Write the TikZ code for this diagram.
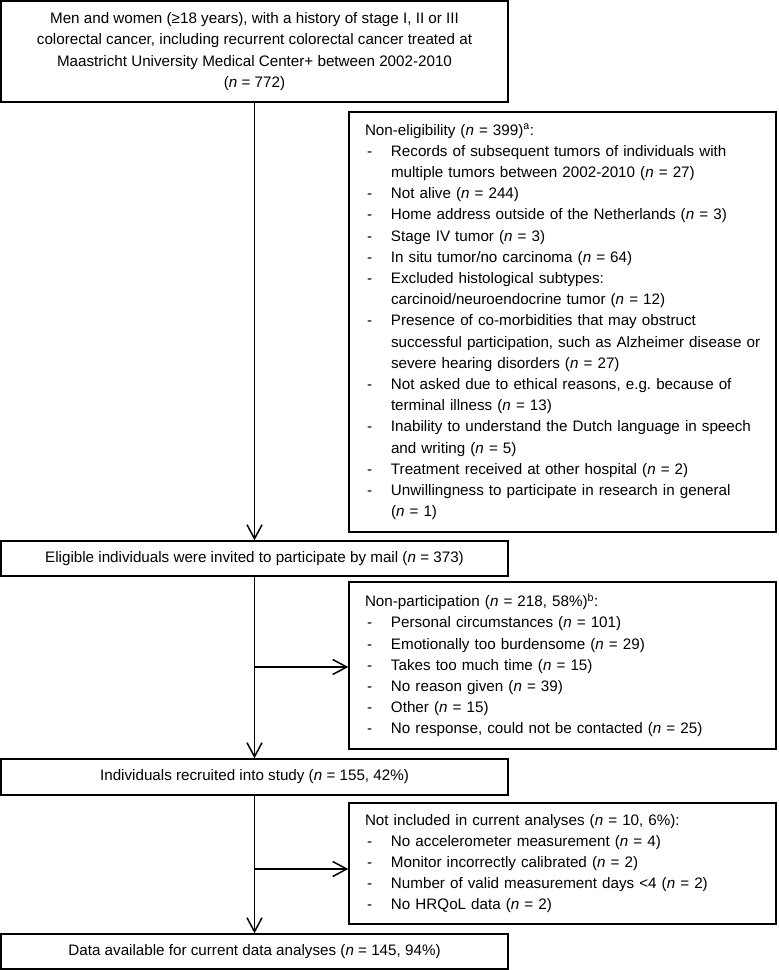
\documentclass[tikz,border=0pt]{standalone}
\usepackage{fontspec}
\setmainfont{Liberation Sans}
\usetikzlibrary{arrows.meta,calc}
\newcommand\hd[1]{\hspace*{8bp}#1}
\newcommand\itm[1]{\hspace*{8bp}\makebox[26bp][l]{\hspace{2bp}-}#1}
\newcommand\cnt[1]{\hspace*{34bp}#1}
\newcommand\nn{\textit{n}}
\begin{document}
\begin{tikzpicture}[x=1bp,y=-1bp,
  box/.style={draw,line width=1.4bp,inner ysep=0pt,font=\fontsize{15.2bp}{21.2bp}\selectfont},
  mainbox/.style={box,minimum width=507bp,align=center,inner xsep=0pt},
  sidebox/.style={box,text width=411bp,inner xsep=8bp,align=left},
  arr/.style={line width=1.5bp,-{Straight Barb[length=14bp,width=15bp,line width=1.5bp]}}]
\useasboundingbox (0,0) rectangle (779,970);

\node[mainbox,minimum height=101bp] (b1) at (254.5,51.5)
 {Men and women (≥18 years), with a history of stage I, II or III\\
  colorectal cancer, including recurrent colorectal cancer treated at\\
  Maastricht University Medical Center+ between 2002-2010\\
  (\nn{} = 772)};

\node[sidebox,minimum height=420bp] (ne) at (562.5,322)
 {\hd{Non-eligibility (\nn{} = 399)\textsuperscript{a}:}\\
  \itm{Records of subsequent tumors of individuals with}\\
  \cnt{multiple tumors between 2002-2010 (\nn{} = 27)}\\
  \itm{Not alive (\nn{} = 244)}\\
  \itm{Home address outside of the Netherlands (\nn{} = 3)}\\
  \itm{Stage IV tumor (\nn{} = 3)}\\
  \itm{In situ tumor/no carcinoma (\nn{} = 64)}\\
  \itm{Excluded histological subtypes:}\\
  \cnt{carcinoid/neuroendocrine tumor (\nn{} = 12)}\\
  \itm{Presence of co-morbidities that may obstruct}\\
  \cnt{successful participation, such as Alzheimer disease or}\\
  \cnt{severe hearing disorders (\nn{} = 27)}\\
  \itm{Not asked due to ethical reasons, e.g.\ because of}\\
  \cnt{terminal illness (\nn{} = 13)}\\
  \itm{Inability to understand the Dutch language in speech}\\
  \cnt{and writing (\nn{} = 5)}\\
  \itm{Treatment received at other hospital (\nn{} = 2)}\\
  \itm{Unwillingness to participate in research in general}\\
  \cnt{(\nn{} = 1)}};

\node[mainbox,minimum height=35bp] (b2) at (254.5,558.5)
 {Eligible individuals were invited to participate by mail (\nn{} = 373)};

\node[sidebox,minimum height=167bp] (np) at (562.5,665.5)
 {\hd{Non-participation (\nn{} = 218, 58\%)\textsuperscript{b}:}\\
  \itm{Personal circumstances (\nn{} = 101)}\\
  \itm{Emotionally too burdensome (\nn{} = 29)}\\
  \itm{Takes too much time (\nn{} = 15)}\\
  \itm{No reason given (\nn{} = 39)}\\
  \itm{Other (\nn{} = 15)}\\
  \itm{No response, could not be contacted (\nn{} = 25)}};

\node[mainbox,minimum height=36bp] (b3) at (254.5,777)
 {Individuals recruited into study (\nn{} = 155, 42\%)};

\node[sidebox,minimum height=121bp] (ni) at (562.5,863.5)
 {\hd{Not included in current analyses (\nn{} = 10, 6\%):}\\
  \itm{No accelerometer measurement (\nn{} = 4)}\\
  \itm{Monitor incorrectly calibrated (\nn{} = 2)}\\
  \itm{Number of valid measurement days <4 (\nn{} = 2)}\\
  \itm{No HRQoL data (\nn{} = 2)}};

\node[mainbox,minimum height=35bp] (b4) at (254.5,951.5)
 {Data available for current data analyses (\nn{} = 145, 94\%)};

\draw[arr] (b1.south) -- (b2.north);
\draw[arr] (b2.south) -- (b3.north);
\draw[arr] (b3.south) -- (b4.north);
\coordinate (c1) at ($(np.west)+(0,1.5)$);
\coordinate (c2) at ($(ni.west)+(0,5.5)$);
\draw[arr] (c1 -| b2.south) -- (c1);
\draw[arr] (c2 -| b3.south) -- (c2);
\end{tikzpicture}
\end{document}
